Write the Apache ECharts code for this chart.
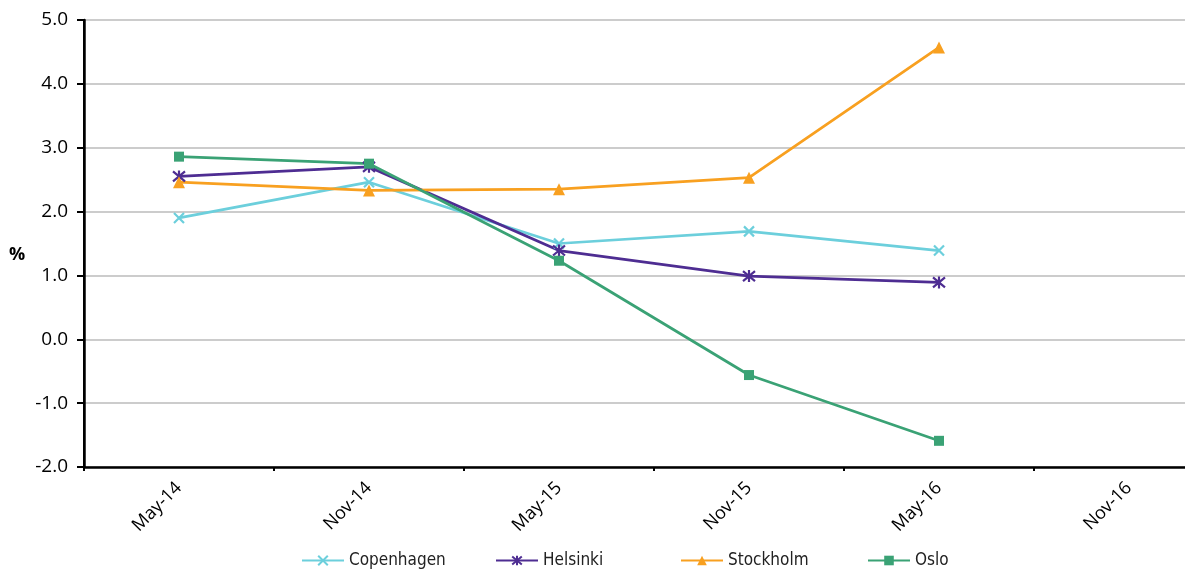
<!DOCTYPE html>
<html>
<head>
<meta charset="utf-8">
<script src="https://cdn.jsdelivr.net/npm/echarts@6/dist/echarts.min.js"></script>
<style>
  html, body { margin: 0; padding: 0; background: #fff; }
  #chart { width: 1185px; height: 571px; }
</style>
</head>
<body>
<div id="chart"></div>
<script>
// Half-yearly periods on the category axis
const periods = ['May-14', 'Nov-14', 'May-15', 'Nov-15', 'May-16', 'Nov-16'];

// Values in % per city (no reading yet for Nov-16)
const copenhagen = [1.90, 2.46, 1.50, 1.69, 1.39, null];
const helsinki   = [2.55, 2.70, 1.39, 0.99, 0.89, null];
const stockholm  = [2.46, 2.33, 2.35, 2.53, 4.57, null];
const oslo       = [2.86, 2.75, 1.23, -0.56, -1.59, null];

// Value axis range and step
const yMin = -2, yMax = 5, yStep = 1;

const axisFont = "'Open Sans', 'Noto Sans', sans-serif";
const legendFont = "'Liberation Sans Narrow', 'DejaVu Sans Condensed', 'Open Sans', sans-serif";

const crossPath = 'path://M0,0L10,10M10,0L0,10';
const starPath = 'path://M0,0L10,10M10,0L0,10M5,-1L5,11';

function lineSeries(name, data, color, symbol, size, stroke) {
  return {
    name: name,
    type: 'line',
    data: data,
    symbol: symbol,
    symbolSize: size,
    showSymbol: true,
    connectNulls: false,
    lineStyle: { color: color, width: 2.75 },
    itemStyle: stroke
      ? { color: color, borderColor: color, borderWidth: 2.2 }
      : { color: color, borderWidth: 0 },
    emphasis: { disabled: true },
    animation: false
  };
}

function legendAt(name, left) {
  return {
    data: [name],
    left: left,
    top: 552,
    padding: 0,
    itemWidth: 42,
    itemHeight: 12,
    textStyle: { fontFamily: legendFont, fontSize: 17, color: '#222' },
    selectedMode: false
  };
}

const chart = echarts.init(document.getElementById('chart'), null, { renderer: 'canvas' });

chart.setOption({
  backgroundColor: '#fff',
  animation: false,
  grid: {
    left: 84, top: 20, bottom: 104, right: -39,
    show: true, borderColor: '#000', borderWidth: 2,
    containLabel: false, outerBoundsMode: 'none'
  },
  graphic: [{
    type: 'text',
    left: 9, top: 246,
    style: { text: '%', font: "bold 18px 'Open Sans', sans-serif", fill: '#000' }
  }],
  legend: [
    legendAt('Copenhagen', 301),
    legendAt('Helsinki', 495),
    legendAt('Stockholm', 680),
    legendAt('Oslo', 867)
  ],
  xAxis: {
    type: 'category',
    data: periods,
    boundaryGap: true,
    axisLine: { onZero: false, lineStyle: { color: '#000', width: 2.5 } },
    axisTick: { show: true, length: 4, lineStyle: { color: '#000', width: 2 } },
    axisLabel: {
      rotate: 45, margin: 18, interval: 0,
      fontFamily: axisFont, fontSize: 18, color: '#000'
    },
    splitLine: { show: false }
  },
  yAxis: {
    type: 'value',
    min: yMin, max: yMax, interval: yStep,
    axisLine: { show: true, lineStyle: { color: '#000', width: 2.5 } },
    axisTick: { show: true, length: 7, lineStyle: { color: '#000', width: 2 } },
    axisLabel: {
      margin: 16,
      fontFamily: axisFont, fontSize: 19, color: '#000',
      formatter: v => v.toFixed(1)
    },
    splitLine: { show: true, lineStyle: { color: '#cccccc', width: 2 } }
  },
  series: [
    lineSeries('Copenhagen', copenhagen, '#6ccfdc', crossPath, 10, true),
    lineSeries('Helsinki', helsinki, '#4e2d92', starPath, 12, true),
    lineSeries('Stockholm', stockholm, '#f8a020', 'triangle', 12, false),
    lineSeries('Oslo', oslo, '#3aa275', 'rect', 10, false)
  ]
});
</script>
</body>
</html>
